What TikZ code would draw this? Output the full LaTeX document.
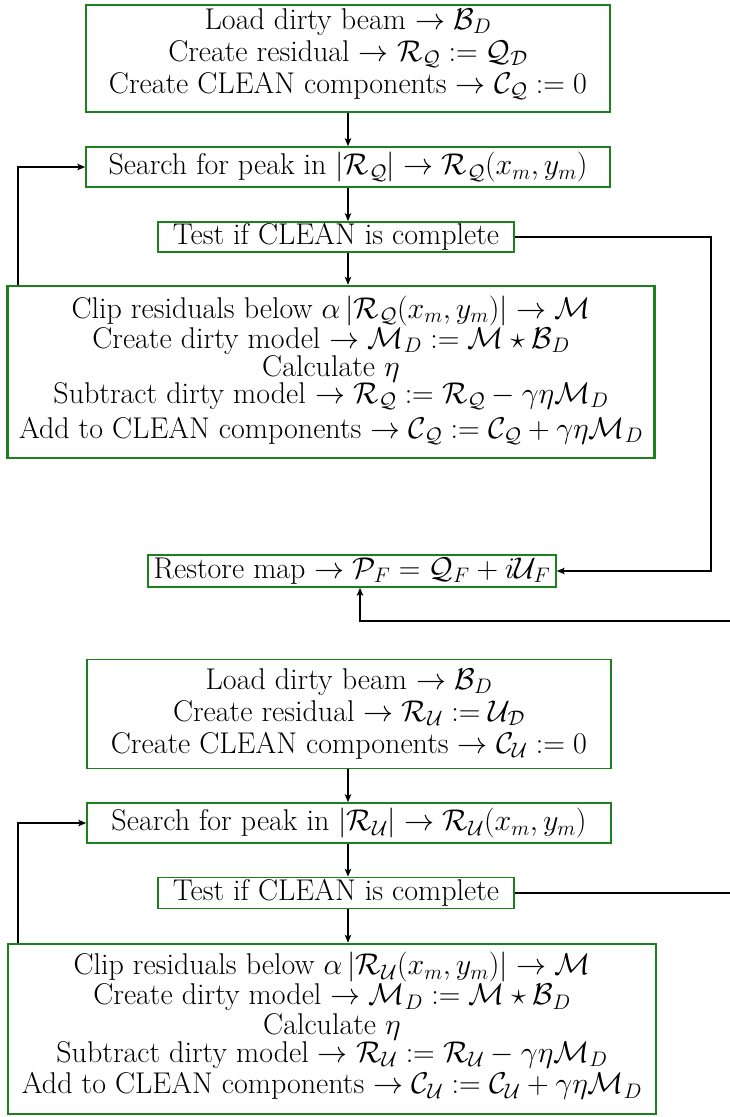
\RequirePackage{fix-cm}
\documentclass[tikz,border=0pt]{standalone}
\usepackage{amsmath,amssymb}
\usetikzlibrary{arrows.meta}
\definecolor{boxgreen}{RGB}{28,128,28}
\newcommand\smallboxfont{\fontsize{30}{32}\selectfont\lineskiplimit=-100pt\relax}
\newcommand\bigboxfont{\fontsize{30}{30}\selectfont\lineskiplimit=-100pt\relax}
\tikzset{
  box/.style={draw=boxgreen, line width=1.6pt, align=center, inner sep=0pt,
    font=\smallboxfont},
  bigbox/.style={draw=boxgreen, line width=2.5pt, align=center, inner sep=0pt,
    font=\bigboxfont},
  conn/.style={draw=black, line width=1.3pt, -{Stealth[length=8pt,width=6.5pt,inset=2pt]}},
  plain/.style={draw=black, line width=1.3pt}
}
\begin{document}
\begin{tikzpicture}[x=1pt,y=-1pt]
\useasboundingbox (0,0) rectangle (730,1117);
% ---------- Q part ----------
\node[box, minimum width=524pt, minimum height=107pt, text depth=14.8pt] (b1) at (348,58.3)
  {Load dirty beam $\rightarrow \mathcal{B}_D$\\
   Create residual $\rightarrow \mathcal{R}_{\mathcal{Q}} := \mathcal{Q}_{\mathcal{D}}$\\
   Create CLEAN components $\rightarrow \mathcal{C}_{\mathcal{Q}} := 0$};
\node[box, minimum width=524pt, minimum height=40pt] (b2) at (348,167)
  {Search for peak in $|\mathcal{R}_{\mathcal{Q}}| \rightarrow \mathcal{R}_{\mathcal{Q}}(x_m,y_m)$};
\node[box, minimum width=356pt, minimum height=30pt] (b3) at (336,237)
  {Test if CLEAN is complete};
\node[bigbox, minimum width=647pt, minimum height=172pt, text depth=10pt] (b4) at (331,372)
  {Clip residuals below $\alpha\left|\mathcal{R}_{\mathcal{Q}}(x_m,y_m)\right| \rightarrow \mathcal{M}$\\
   Create dirty model $\rightarrow \mathcal{M}_D := \mathcal{M}\star\mathcal{B}_D$\\[-1.7pt]
   Calculate $\eta$\\[-3.3pt]
   Subtract dirty model $\rightarrow \mathcal{R}_{\mathcal{Q}} := \mathcal{R}_{\mathcal{Q}} - \gamma\eta\mathcal{M}_D$\\[5pt]
   Add to CLEAN components $\rightarrow \mathcal{C}_{\mathcal{Q}} := \mathcal{C}_{\mathcal{Q}} + \gamma\eta\mathcal{M}_D$};
\node[box, minimum width=408pt, minimum height=32pt] (r) at (352,571)
  {Restore map $\rightarrow \mathcal{P}_F = \mathcal{Q}_F + i\mathcal{U}_F$};
% ---------- U part ----------
\node[box, minimum width=524pt, minimum height=109pt] (c1) at (349,713.8)
  {Load dirty beam $\rightarrow \mathcal{B}_D$\\
   Create residual $\rightarrow \mathcal{R}_{\mathcal{U}} := \mathcal{U}_{\mathcal{D}}$\\
   Create CLEAN components $\rightarrow \mathcal{C}_{\mathcal{U}} := 0$};
\node[box, minimum width=524pt, minimum height=40pt] (c2) at (349,823)
  {Search for peak in $|\mathcal{R}_{\mathcal{U}}| \rightarrow \mathcal{R}_{\mathcal{U}}(x_m,y_m)$};
\node[box, minimum width=356pt, minimum height=31pt] (c3) at (336,893)
  {Test if CLEAN is complete};
\node[bigbox, minimum width=648pt, minimum height=170pt, text depth=12pt] (c4) at (332,1029)
  {Clip residuals below $\alpha\left|\mathcal{R}_{\mathcal{U}}(x_m,y_m)\right| \rightarrow \mathcal{M}$\\
   Create dirty model $\rightarrow \mathcal{M}_D := \mathcal{M}\star\mathcal{B}_D$\\[-0.3pt]
   Calculate $\eta$\\[-2.3pt]
   Subtract dirty model $\rightarrow \mathcal{R}_{\mathcal{U}} := \mathcal{R}_{\mathcal{U}} - \gamma\eta\mathcal{M}_D$\\[1.6pt]
   Add to CLEAN components $\rightarrow \mathcal{C}_{\mathcal{U}} := \mathcal{C}_{\mathcal{U}} + \gamma\eta\mathcal{M}_D$};
% ---------- connectors ----------
\coordinate (qx) at (348,0);
\coordinate (ux) at (348,0);
\coordinate (loopq) at (18,0);
\coordinate (loopu) at (18,0);
\coordinate (rightq) at (711,0);
\coordinate (outu) at (730,0);
\coordinate (inr) at (730,621);
\coordinate (rx) at (360,0);

\draw[conn] (b1.south -| qx) -- (b2.north -| qx);
\draw[conn] (b2.south -| qx) -- (b3.north -| qx);
\draw[conn] (b3.south -| qx) -- (b4.north -| qx);
\draw[conn] (b4.north -| loopq) -- (b2.west -| loopq) -- (b2.west);
\draw[conn] (b3.east) -- (b3.east -| rightq) -- (r.east -| rightq) -- (r.east);
\draw[conn] (inr) -- (inr -| rx) -- (r.south -| rx);

\draw[conn] (c1.south -| ux) -- (c2.north -| ux);
\draw[conn] (c2.south -| ux) -- (c3.north -| ux);
\draw[conn] (c3.south -| ux) -- (c4.north -| ux);
\draw[conn] (c4.north -| loopu) -- (c2.west -| loopu) -- (c2.west);
\draw[plain] (c3.east) -- (c3.east -| outu);
\end{tikzpicture}
\end{document}
